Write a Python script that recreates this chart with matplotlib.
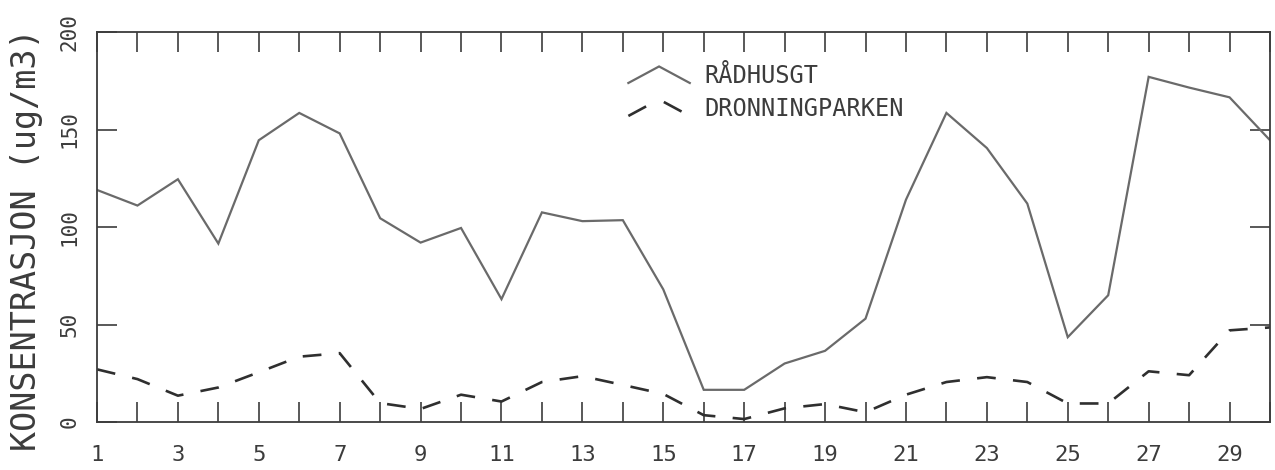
import matplotlib
matplotlib.use("Agg")
import matplotlib.pyplot as plt
from matplotlib.lines import Line2D
from matplotlib.legend_handler import HandlerBase
from matplotlib.ticker import FixedLocator, FixedFormatter

# Daily concentrations for the month
days = list(range(1, 31))
radhusgt = [119, 111, 124.5, 91.5, 144.5, 158.5, 148, 104.5, 92, 99.5,
            63, 107.5, 103, 103.5, 68, 16.5, 16.5, 30, 36.5, 53,
            114, 158.5, 140.5, 112, 43.5, 65, 177, 171.5, 166.5, 144.5]
dronningparken = [27, 22, 13.5, 17.7, 25.5, 33.5, 35.3, 9.7, 6.7, 14,
                  10.5, 20.5, 23.5, 19, 14.4, 3.5, 1.5, 7, 9.2, 5,
                  14, 20.5, 23, 20.5, 9.5, 9.5, 26, 24, 47, 48.5]
series_labels = ["RÅDHUSGT", "DRONNINGPARKEN"]
y_ticks = [0, 50, 100, 150, 200]
x_label_days = list(range(1, 30, 2))
y_title = "KONSENTRASJON (ug/m3)"

plt.rcParams["font.family"] = ["DejaVu Sans Mono", "DejaVu Sans"]
plt.rcParams["lines.scale_dashes"] = False

INK = "#3c3c3c"
SOLID = "#6a6a6a"


class ChevronHandler(HandlerBase):
    """Legend key drawn as a small peaked line in the series' style."""

    def create_artists(self, legend, orig_handle, xdescent, ydescent,
                       width, height, fontsize, trans):
        x0, y0 = -xdescent, -ydescent
        line = Line2D([x0, x0 + width / 2, x0 + width],
                      [y0, y0 + height, y0])
        line.update_from(orig_handle)
        if orig_handle.get_linestyle() not in ("-", "solid"):
            # leave the break at the peak of the key
            line.set_linestyle((0, (14.5, 14.5)))
        line.set_transform(trans)
        return [line]


fig = plt.figure(figsize=(12.75, 4.7), dpi=100)
ax = fig.add_axes([97 / 1275, 1 - 422 / 470, 1173 / 1275, 390 / 470])

l1, = ax.plot(days, radhusgt, color=SOLID, lw=1.6, solid_joinstyle="miter")
l2, = ax.plot(days, dronningparken, color="#2f2f2f", lw=1.9,
              linestyle=(0, (13.5, 12.5)), dash_capstyle="butt")

ax.set_xlim(days[0], days[-1])
ax.set_ylim(y_ticks[0], y_ticks[-1])

# Tick every day, labels on odd days only
ax.xaxis.set_major_locator(FixedLocator(days))
ax.xaxis.set_major_formatter(FixedFormatter(
    [str(d) if d in x_label_days else "" for d in days]))
ax.yaxis.set_major_locator(FixedLocator(y_ticks))
ax.yaxis.set_major_formatter(FixedFormatter([str(v) for v in y_ticks]))

ax.tick_params(axis="both", which="major", direction="in", length=14.5,
               width=1.2, color=INK, labelcolor=INK,
               top=True, right=True, labeltop=False, labelright=False)
ax.tick_params(axis="x", labelsize=16, pad=16.5)
ax.tick_params(axis="y", labelsize=15, pad=12.5)
for lab in ax.get_yticklabels():
    lab.set_rotation(90)
    lab.set_verticalalignment("center")

for sp in ax.spines.values():
    sp.set_color(INK)
    sp.set_linewidth(1.3)

ax.set_ylabel(y_title, fontsize=24, color=INK)
ax.yaxis.set_label_coords(-0.046, 0.468)

leg = ax.legend([l1, l2], series_labels,
                handler_map={Line2D: ChevronHandler()},
                loc="upper left", bbox_to_anchor=(0.453, 0.918),
                frameon=False, fontsize=17, borderpad=0, borderaxespad=0,
                handlelength=2.6, handleheight=0.7, handletextpad=0.6,
                labelspacing=0.38, labelcolor=INK)

fig.savefig("out.png", dpi=100, facecolor="white")
